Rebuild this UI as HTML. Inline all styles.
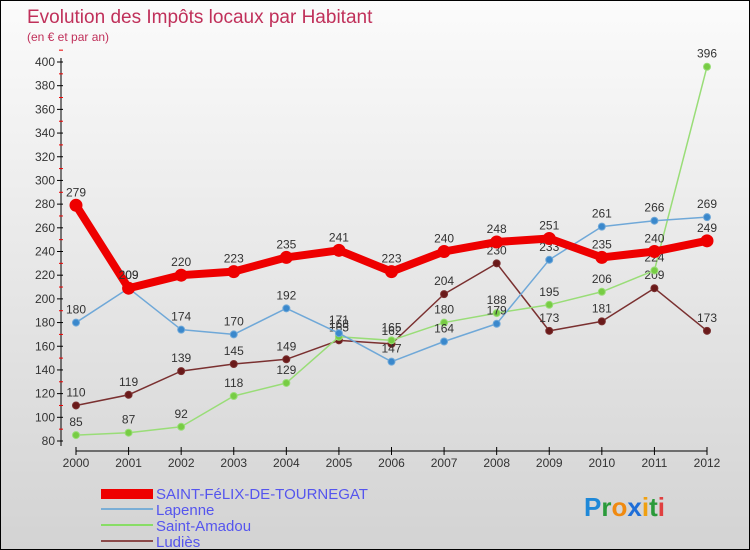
<!DOCTYPE html>
<html><head><meta charset="utf-8"><style>
body{margin:0}
#c{width:750px;height:550px;position:relative;box-sizing:border-box;border:1px solid #000;background:linear-gradient(#fbfbfb,#d3d3d3);font-family:"Liberation Sans",sans-serif;overflow:hidden}
</style></head><body>
<div id="c">
<svg id="s" width="750" height="550" style="position:absolute;left:0;top:0">
<text x="26" y="22" font-size="19" fill="#c0305a">Evolution des Impôts locaux par Habitant</text>
<text x="26" y="40" font-size="12" fill="#c0305a">(en € et par an)</text>
<g id="ax"></g><g id="ser"></g>
<g font-size="15" fill="#5555ee">
<rect x="100" y="488" width="52" height="10" fill="#e00"/>
<text x="155" y="498">SAINT-FéLIX-DE-TOURNEGAT</text>
<rect x="100" y="507" width="52" height="2" fill="#7aaed6"/>
<text x="155" y="514">Lapenne</text>
<rect x="100" y="523" width="52" height="2" fill="#88dd66"/>
<text x="155" y="530">Saint-Amadou</text>
<rect x="100" y="539" width="52" height="2" fill="#8b4a4a"/>
<text x="155" y="546">Ludiès</text>
</g>
<g font-size="26" font-weight="bold">
<text x="583" y="515"><tspan fill="#1e88d8">P</tspan><tspan fill="#2a9a3a">r</tspan><tspan fill="#f08a10">o</tspan><tspan fill="#1e6ed8">x</tspan><tspan fill="#f0a010">i</tspan><tspan fill="#2a9a3a">t</tspan><tspan fill="#e04040">i</tspan></text>
</g>
</svg>
</div>
<script>
const years=[2000,2001,2002,2003,2004,2005,2006,2007,2008,2009,2010,2011,2012];
const yTicks=[80,100,120,140,160,180,200,220,240,260,280,300,320,340,360,380,400];
const saintFelix=[279,209,220,223,235,241,223,240,248,251,235,240,249];
const lapenne=[180,209,174,170,192,171,147,164,179,233,261,266,269];
const saintAmadou=[85,87,92,118,129,168,165,180,188,195,206,224,396];
const ludies=[110,119,139,145,149,165,162,204,230,173,181,209,173];
const NS="http://www.w3.org/2000/svg";
const X=i=>75+i*(706-75)/(years.length-1);
const Y=v=>440-(v-80)*(440-61)/(400-80);
function mk(t,a,p){const e=document.createElementNS(NS,t);for(const k in a)e.setAttribute(k,a[k]);p.appendChild(e);return e;}
const ax=document.getElementById('ax');
const yl=mk('line',{x1:60,y1:57,x2:60,y2:445,stroke:'#000'},ax);


yTicks.forEach(v=>{
 mk('line',{x1:56,y1:Y(v),x2:62,y2:Y(v),stroke:'#000'},ax);
 mk('line',{x1:58,y1:Y(v+10),x2:62,y2:Y(v+10),stroke:'#e00'},ax);
 const t=mk('text',{x:54,y:Y(v)+4,'text-anchor':'end','font-size':12,fill:'#333'},ax);t.textContent=v;
 
 
});
const xl=mk('line',{x1:75,y1:450,x2:706,y2:450,stroke:'#000'},ax);


years.forEach((y,i)=>{
 mk('line',{x1:X(i),y1:446,x2:X(i),y2:454,stroke:'#000'},ax);
 const t=mk('text',{x:X(i),y:466,'text-anchor':'middle','font-size':12,fill:'#333'},ax);t.textContent=y;
 
 
});
const ser=document.getElementById('ser');
function draw(d,name,col,w,r,dot){
 const g=mk('g',{},ser);
 
 
 const pl=mk('polyline',{points:d.map((v,i)=>X(i)+','+Y(v)).join(' '),fill:'none',stroke:col,'stroke-width':w,'stroke-linejoin':'round'},g);
 
 
 d.forEach((v,i)=>{
  const c=mk('circle',{cx:X(i),cy:Y(v),r:r,fill:dot,stroke:col,'stroke-width':1},g);
  
  
  const t=mk('text',{x:X(i),y:Y(v)-9,'text-anchor':'middle','font-size':12,fill:'#333'},g);t.textContent=v;
  
  
 });
}
draw(ludies,'ludies','#7a3030',1.5,3.5,'#6a1a1a');
draw(saintAmadou,'saint-amadou','#99dd77',1.5,3.5,'#77cc44');
draw(lapenne,'lapenne','#6fa8d8',1.5,3.5,'#3a88cc');
draw(saintFelix,'saint-felix','#ee0000',8,6,'#ee0000');
</script>
</body></html>
